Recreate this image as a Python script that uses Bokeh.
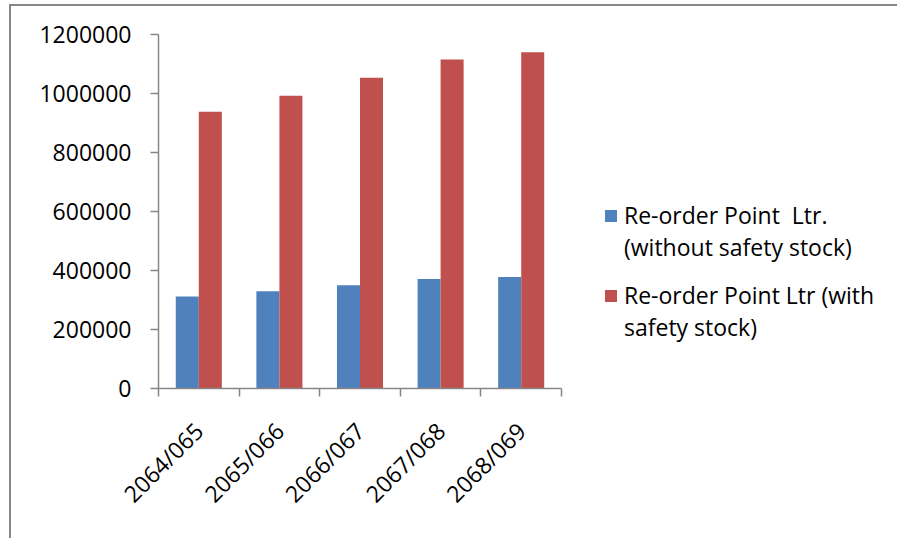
import math

from bokeh.embed import file_html
from bokeh.layouts import column
from bokeh.models import FixedTicker, Legend, LegendItem, NumeralTickFormatter, Range1d
from bokeh.plotting import figure
from bokeh.resources import INLINE

# Fiscal years (Nepali calendar) and re-order points in litres
years = ["2064/065", "2065/066", "2066/067", "2067/068", "2068/069"]
without_safety_stock = [312000, 330000, 350000, 371000, 378000]
with_safety_stock = [938000, 992000, 1053000, 1115000, 1140000]
y_ticks = [0, 200000, 400000, 600000, 800000, 1000000, 1200000]
series_names = [
    ["Re-order Point  Ltr.", "(without safety stock)"],
    ["Re-order Point Ltr (with", "safety stock)"],
]

BLUE = "#4F81BD"
RED = "#C0504D"
AXIS_GREY = "#868686"
FONT = "Open Sans"
FONT_SIZE = "23px"

# plot geometry (pixels): the frame runs to the right edge so the legend
# can sit beside the columns; the category axis only covers the columns
W, H = 886, 532
LEFT, TOP, BOTTOM = 147, 28, 150
AXIS_PX = 403
n = len(years)
x_end = n * (W - LEFT) / AXIS_PX

# clustered columns: two bars per year, 150% gap between clusters
bar_w = 1 / 3.5
centers = [i + 0.5 for i in range(n)]
x_blue = [c - bar_w / 2 for c in centers]
x_red = [c + bar_w / 2 for c in centers]

p = figure(
    width=W,
    height=H,
    x_range=Range1d(0, x_end),
    y_range=Range1d(y_ticks[0], y_ticks[-1]),
    output_backend="svg",
    toolbar_location=None,
    min_border_left=LEFT,
    min_border_right=0,
    min_border_top=TOP,
    min_border_bottom=BOTTOM,
)
p.outline_line_color = None
p.grid.visible = False
p.background_fill_color = "white"
p.border_fill_color = "white"

r_blue = p.vbar(x=x_blue, top=without_safety_stock, width=bar_w, fill_color=BLUE, line_color=None)
r_red = p.vbar(x=x_red, top=with_safety_stock, width=bar_w, fill_color=RED, line_color=None)
# empty renderer used for the second line of each legend entry (no swatch)
r_none = p.vbar(x=[], top=[], width=bar_w, fill_alpha=0, line_alpha=0)

# value axis
p.yaxis.ticker = FixedTicker(ticks=y_ticks, minor_ticks=[])
p.yaxis.formatter = NumeralTickFormatter(format="0")
p.yaxis.axis_line_color = AXIS_GREY
p.yaxis.axis_line_width = 1.5
p.yaxis.major_tick_line_color = AXIS_GREY
p.yaxis.major_tick_line_width = 1.5
p.yaxis.major_tick_in = 0
p.yaxis.major_tick_out = 8
p.yaxis.major_label_standoff = 19
p.yaxis.major_label_text_font = FONT
p.yaxis.major_label_text_font_size = FONT_SIZE
p.yaxis.major_label_text_color = "black"

# category axis: labels at cluster centres, tick marks between clusters
p.xaxis.bounds = (0, n)
p.xaxis.ticker = FixedTicker(ticks=centers, minor_ticks=list(range(n + 1)))
p.xaxis.major_label_overrides = {c: y for c, y in zip(centers, years)}
p.xaxis.axis_line_color = AXIS_GREY
p.xaxis.axis_line_width = 1.5
p.xaxis.major_tick_in = 0
p.xaxis.major_tick_out = 0
p.xaxis.minor_tick_in = 0
p.xaxis.minor_tick_out = 8
p.xaxis.minor_tick_line_color = AXIS_GREY
p.xaxis.minor_tick_line_width = 1.5
p.xaxis.major_label_orientation = math.pi / 4
p.xaxis.major_label_standoff = 30
p.xaxis.major_label_text_font = FONT
p.xaxis.major_label_text_font_size = FONT_SIZE
p.xaxis.major_label_text_color = "black"


def make_legend(lines, renderer, location):
    return Legend(
        items=[
            LegendItem(label=lines[0], renderers=[renderer]),
            LegendItem(label=lines[1], renderers=[r_none]),
        ],
        location=location,
        orientation="vertical",
        glyph_width=15,
        glyph_height=15,
        label_standoff=6,
        label_height=31,
        spacing=0,
        padding=0,
        margin=0,
        border_line_color=None,
        background_fill_alpha=0,
        label_text_font=FONT,
        label_text_font_size=FONT_SIZE,
        label_text_color="black",
    )


p.add_layout(make_legend(series_names[0], r_blue, (445, 125)))
p.add_layout(make_legend(series_names[1], r_red, (445, 45)))

# chart-area border (left and top edges) on a wrapping container
root = column(p)
root.styles = {
    "position": "absolute",
    "left": "9px",
    "top": "4px",
    "border-left": "2px solid #878787",
    "border-top": "2px solid #878787",
}

open("out.html", "w").write(file_html(root, INLINE))
